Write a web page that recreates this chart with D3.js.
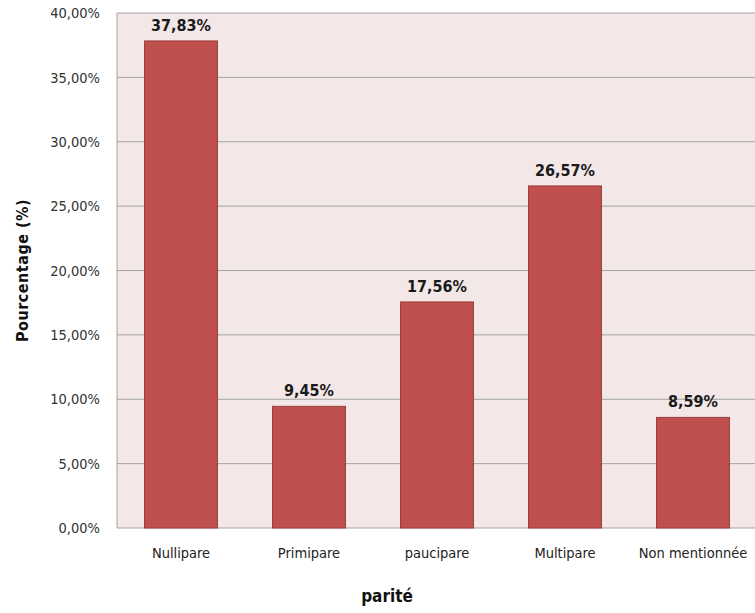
<!DOCTYPE html>
<html>
<head>
<meta charset="utf-8">
<script src="https://cdn.jsdelivr.net/npm/d3@7"></script>
<style>
  body { margin: 0; background: #fff; }
  svg text { font-family: "DejaVu Sans Condensed", "DejaVu Sans", sans-serif; }
</style>
</head>
<body>
<div id="chart"></div>
<script>
// Data
const categories = ["Nullipare", "Primipare", "paucipare", "Multipare", "Non mentionnée"];
const values = [37.83, 9.45, 17.56, 26.57, 8.59];
const yTicks = [0, 5, 10, 15, 20, 25, 30, 35, 40];

const margin = { top: 13, right: -2, bottom: 85, left: 117 };
const W = 755, H = 613;
const width = W - margin.left - margin.right;
const height = H - margin.top - margin.bottom;

const fmt = v => d3.format(".2f")(v).replace(".", ",") + "%";

const svg = d3.select("#chart").append("svg")
    .attr("width", W)
    .attr("height", H);

const g = svg.append("g")
    .attr("transform", `translate(${margin.left}, ${margin.top})`);

const x = d3.scaleBand()
    .domain(categories)
    .range([0, width])
    .paddingInner(0.43)
    .paddingOuter(0.215);

const y = d3.scaleLinear()
    .domain([0, 40])
    .range([height, 0]);

// plot background
g.append("rect")
    .attr("width", width)
    .attr("height", height)
    .attr("fill", "#f3e7e7");

// gridlines
g.append("g")
    .selectAll("line")
    .data(yTicks)
    .join("line")
    .attr("x1", 0)
    .attr("x2", width)
    .attr("y1", d => y(d))
    .attr("y2", d => y(d))
    .attr("stroke", "#a3a3a3")
    .attr("stroke-width", 1);

// left border
g.append("line")
    .attr("x1", 0).attr("x2", 0)
    .attr("y1", 0).attr("y2", height)
    .attr("stroke", "#a3a3a3");

// Y axis labels
const yAxis = g.append("g")
    .call(d3.axisLeft(y).tickValues(yTicks).tickFormat(fmt).tickSize(0).tickPadding(17));
yAxis.select(".domain").remove();
yAxis.selectAll("text")
    .style("font-size", "14.5px")
    .attr("fill", "#333");

// X axis labels
const xAxis = g.append("g")
    .attr("transform", `translate(0, ${height})`)
    .call(d3.axisBottom(x).tickSize(0).tickPadding(20));
xAxis.select(".domain").remove();
xAxis.selectAll("text")
    .style("font-size", "14.5px")
    .attr("fill", "#222");

// bars
g.selectAll(".bar")
    .data(values)
    .join("rect")
    .attr("class", "bar")
    .attr("x", (d, i) => x(categories[i]))
    .attr("y", d => y(d))
    .attr("width", x.bandwidth())
    .attr("height", d => height - y(d))
    .attr("fill", "#c0504d")
    .attr("stroke", "#9c3f3d")
    .attr("stroke-width", 1);

// value labels
g.selectAll(".val")
    .data(values)
    .join("text")
    .attr("class", "val")
    .attr("x", (d, i) => x(categories[i]) + x.bandwidth() / 2)
    .attr("y", d => y(d) - 10)
    .attr("text-anchor", "middle")
    .style("font-size", "16px")
    .style("font-weight", "bold")
    .attr("fill", "#1a1a1a")
    .text(fmt);

// axis titles
svg.append("text")
    .attr("transform", `translate(28, ${margin.top + height / 2}) rotate(-90)`)
    .attr("text-anchor", "middle")
    .style("font-size", "16px")
    .style("font-weight", "bold")
    .style("letter-spacing", "0.5px")
    .attr("fill", "#111")
    .text("Pourcentage (%)");

svg.append("text")
    .attr("x", 387)
    .attr("y", 602)
    .attr("text-anchor", "middle")
    .style("font-size", "17px")
    .style("font-weight", "bold")
    .attr("fill", "#111")
    .text("parité");
</script>
</body>
</html>
